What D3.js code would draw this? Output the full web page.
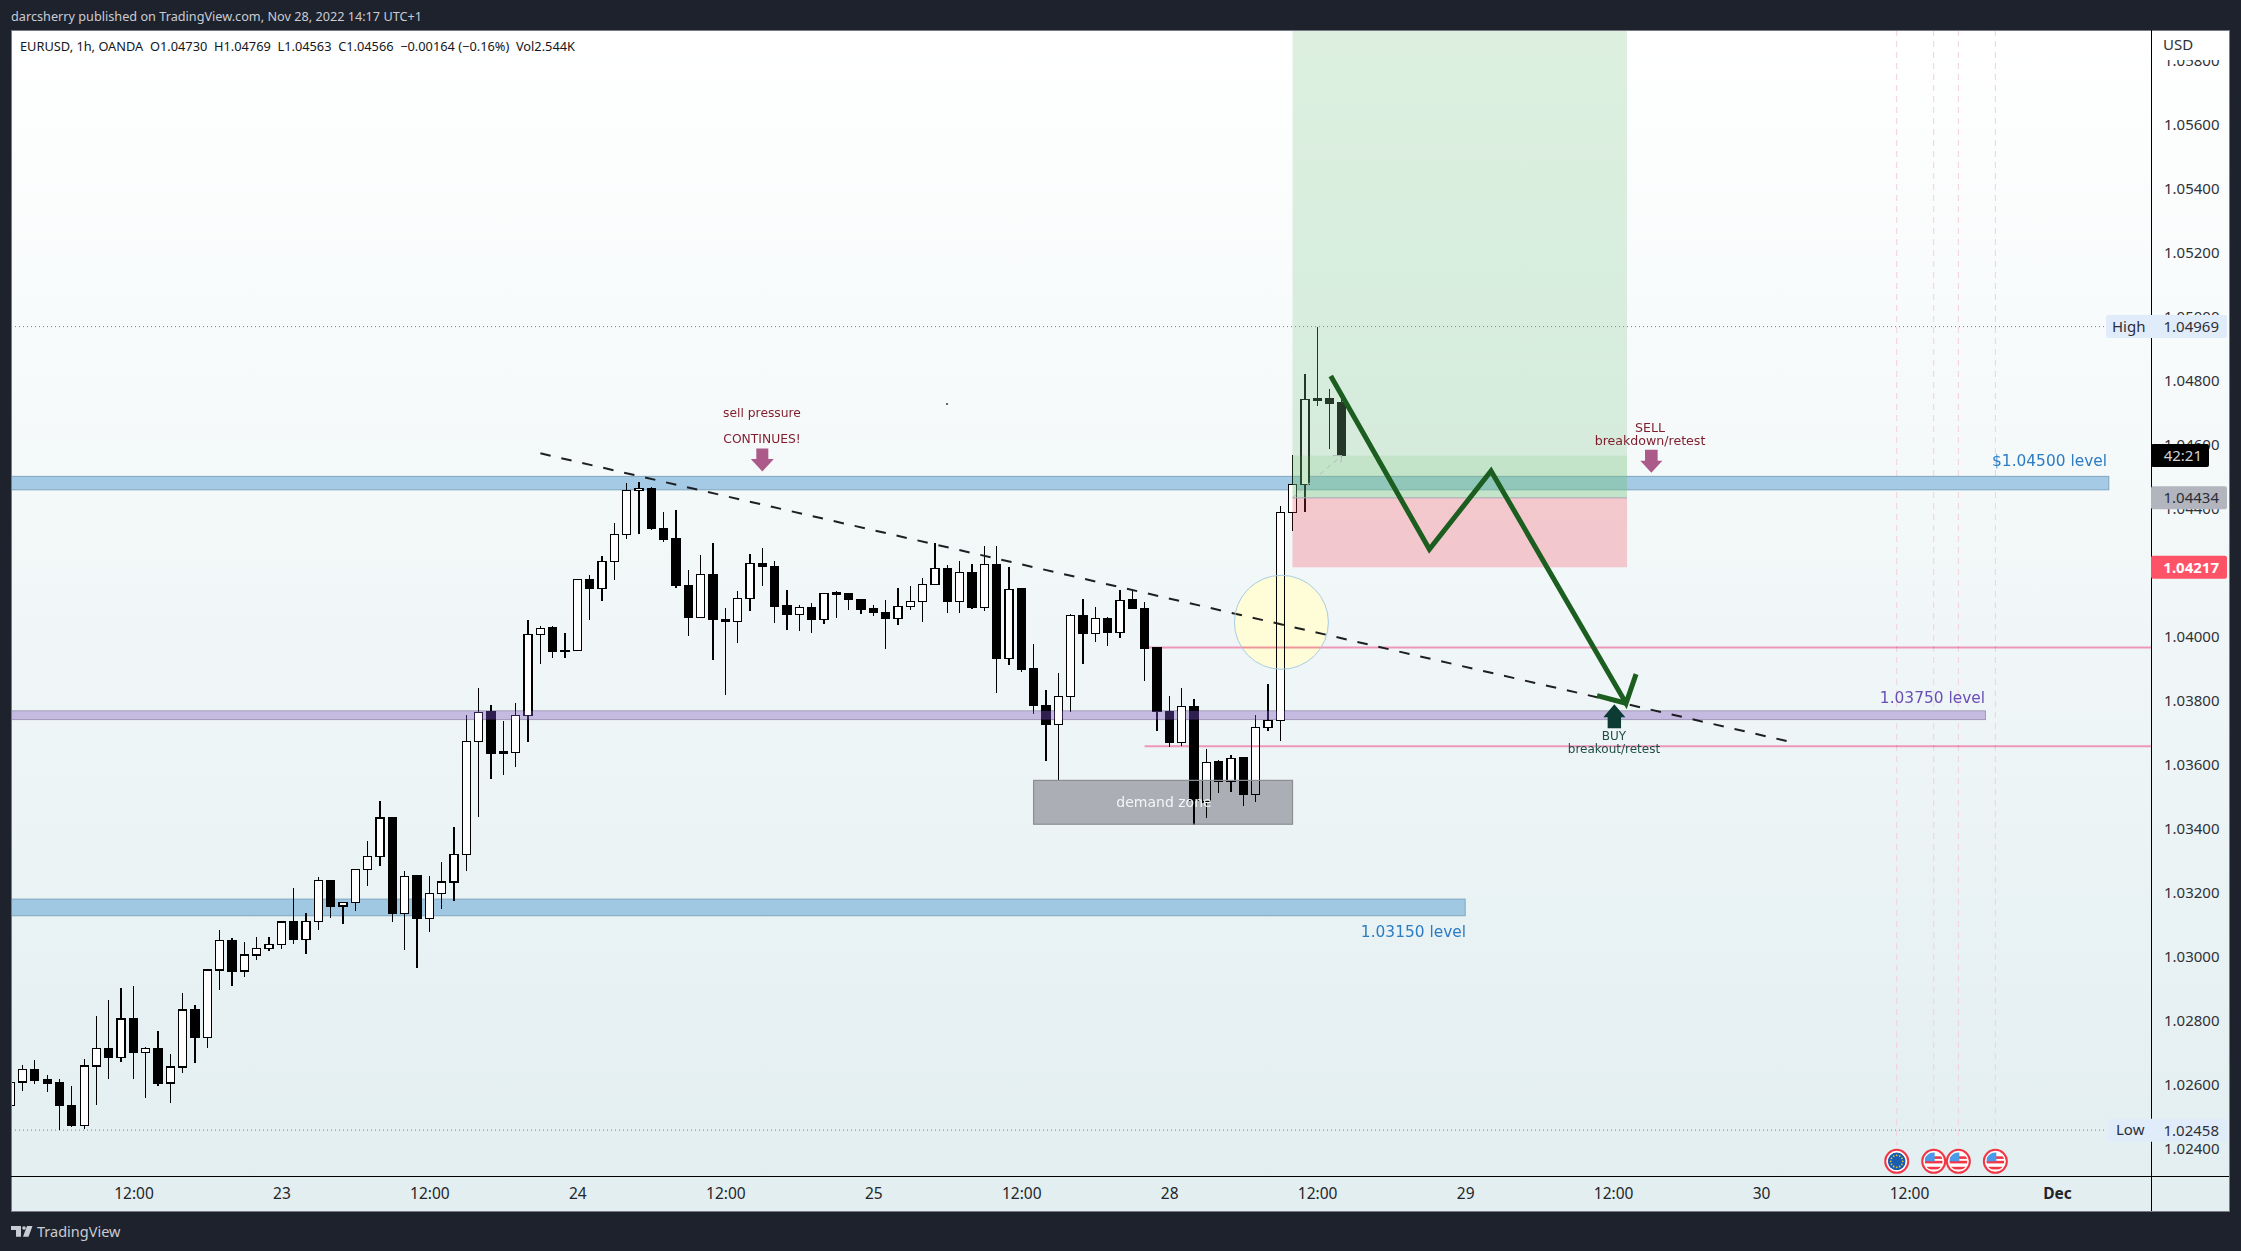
<!DOCTYPE html>
<html><head><meta charset="utf-8">
<style>
html,body{margin:0;padding:0;background:#1e222d;overflow:hidden}
svg{display:block}
</style>
<script src="https://cdn.jsdelivr.net/npm/d3@7/dist/d3.min.js"></script>
</head><body><svg id="c" width="2241" height="1251"></svg>
<script>
// ---------- data: hourly EURUSD candles ----------
const opens=[1.02535,1.02608,1.02648,1.02615,1.02605,1.02536,1.02473,1.02658,1.02714,1.02686,1.02805,1.02701,1.02714,1.02605,1.02655,1.02833,1.02748,1.02958,1.03051,1.02955,1.03005,1.03026,1.03039,1.03108,1.03053,1.03111,1.03239,1.03158,1.03170,1.03273,1.03314,1.03433,1.03136,1.03252,1.03120,1.03198,1.03233,1.03320,1.03673,1.03765,1.03640,1.03638,1.03753,1.04007,1.04027,1.03957,1.03956,1.04179,1.04150,1.04236,1.04320,1.04457,1.04464,1.04339,1.04305,1.04161,1.04059,1.04195,1.04054,1.04047,1.04120,1.04229,1.04220,1.04096,1.04069,1.04092,1.04054,1.04134,1.04136,1.04117,1.04087,1.04076,1.04056,1.04095,1.04110,1.04164,1.04214,1.04111,1.04201,1.04092,1.04226,1.03932,1.04149,1.03899,1.03786,1.03726,1.03814,1.04067,1.04011,1.04057,1.04014,1.04115,1.04089,1.03965,1.03767,1.03670,1.03782,1.03483,1.03608,1.03548,1.03621,1.03506,1.03717,1.03739,1.04389,1.04476,1.04741,1.04743,1.04730];
const highs=[1.02620,1.02661,1.02677,1.02631,1.02617,1.02596,1.02680,1.02815,1.02865,1.02902,1.02909,1.02718,1.02768,1.02696,1.02887,1.02849,1.02958,1.03084,1.03059,1.03046,1.03062,1.03062,1.03108,1.03215,1.03137,1.03249,1.03240,1.03170,1.03273,1.03362,1.03487,1.03434,1.03268,1.03252,1.03252,1.03296,1.03406,1.03754,1.03840,1.03786,1.03737,1.03792,1.04052,1.04032,1.04032,1.04012,1.04179,1.04192,1.04251,1.04355,1.04480,1.04483,1.04467,1.04390,1.04395,1.04207,1.04255,1.04293,1.04089,1.04142,1.04258,1.04277,1.04236,1.04146,1.04099,1.04104,1.04136,1.04143,1.04136,1.04117,1.04099,1.04115,1.04152,1.04158,1.04183,1.04292,1.04224,1.04237,1.04226,1.04283,1.04283,1.04217,1.04149,1.03977,1.03833,1.03887,1.04070,1.04118,1.04093,1.04062,1.04146,1.04143,1.04108,1.03965,1.03815,1.03840,1.03805,1.03649,1.03615,1.03629,1.03623,1.03755,1.03852,1.04408,1.04568,1.04821,1.04969,1.04774,1.04769];
const lows=[1.02500,1.02581,1.02603,1.02578,1.02459,1.02469,1.02463,1.02538,1.02619,1.02672,1.02619,1.02560,1.02597,1.02544,1.02638,1.02669,1.02716,1.02897,1.02907,1.02938,1.02991,1.03019,1.03025,1.03041,1.03007,1.03085,1.03122,1.03103,1.03144,1.03222,1.03282,1.03110,1.03022,1.02966,1.03078,1.03150,1.03175,1.03269,1.03438,1.03556,1.03569,1.03594,1.03672,1.03916,1.03934,1.03934,1.03956,1.04053,1.04112,1.04178,1.04305,1.04322,1.04334,1.04297,1.04153,1.04003,1.04059,1.03928,1.03819,1.03981,1.04081,1.04159,1.04044,1.04022,1.04019,1.04013,1.04041,1.04059,1.04083,1.04072,1.04066,1.03963,1.04038,1.04084,1.04047,1.04163,1.04075,1.04075,1.04088,1.04079,1.03825,1.03913,1.03891,1.03760,1.03613,1.03550,1.03766,1.03916,1.03985,1.03972,1.03997,1.04088,1.03863,1.03706,1.03656,1.03660,1.03413,1.03434,1.03513,1.03515,1.03472,1.03484,1.03706,1.03675,1.04331,1.04391,1.04721,1.04588,1.04563];
const closes=[1.02607,1.02648,1.02613,1.02603,1.02535,1.02472,1.02658,1.02714,1.02685,1.02805,1.02700,1.02714,1.02603,1.02655,1.02833,1.02747,1.02958,1.03051,1.02953,1.03005,1.03026,1.03039,1.03108,1.03053,1.03111,1.03239,1.03157,1.03170,1.03273,1.03314,1.03433,1.03135,1.03251,1.03119,1.03198,1.03233,1.03320,1.03673,1.03764,1.03634,1.03634,1.03754,1.04007,1.04026,1.03953,1.03953,1.04179,1.04150,1.04236,1.04320,1.04457,1.04463,1.04338,1.04303,1.04159,1.04059,1.04195,1.04053,1.04047,1.04120,1.04229,1.04219,1.04094,1.04069,1.04092,1.04053,1.04136,1.04137,1.04116,1.04084,1.04075,1.04056,1.04095,1.04110,1.04164,1.04214,1.04109,1.04201,1.04091,1.04226,1.03931,1.04148,1.03897,1.03785,1.03725,1.03814,1.04067,1.04010,1.04057,1.04013,1.04114,1.04088,1.03963,1.03766,1.03669,1.03782,1.03490,1.03607,1.03547,1.03620,1.03506,1.03717,1.03739,1.04389,1.04476,1.04742,1.04743,1.04728,1.04566];
const barSlots=d3.range(0,closes.length);

const priceTicks=[1.058,1.056,1.054,1.052,1.05,1.048,1.046,1.044,1.042,1.04,1.038,1.036,1.034,1.032,1.03,1.028,1.026,1.024];
const timeSlots=[10,22,34,46,58,70,82,94,106,118,130,142,154,166];
const timeLabels=["12:00","23","12:00","24","12:00","25","12:00","28","12:00","29","12:00","30","12:00","Dec"];
const eventSlots=[153,156,158,161];
const eventKinds=["EU","US","US","US"];

const highPrice=1.04969, lowPrice=1.02458, closePrice=1.04566, entryPrice=1.04434, stopPrice=1.04217, targetPrice=1.05896;
const blueTopBand=[1.04501,1.04459], purpleBand=[1.03768,1.03741], blueLowBand=[1.03180,1.03128], demandBand=[1.03551,1.03414];
const blueTopEnd=170.2, purpleEnd=160.2, blueLowEnd=118, demandStart=83, demandEnd=104;
const posStart=104, posEnd=131.13;
const pinkLevels=[1.03966,1.03658], pinkStart=92;
const trendSlots=[43,144.75], trendPrices=[1.04573,1.03668];
const pathSlots=[107.1,115.1,120.1,131.05,131.86], pathPrices=[1.04815,1.04273,1.04518,1.03792,1.03883];
const headSlots=[128.7,131.05], headPrices=[1.03816,1.03792];
const circleSlot=103.1, circlePrice=1.04045;
const arrowSlots=[61,133.1,130.1], arrowPrices=[1.04516,1.04512,1.03789];

// ---------- geometry ----------
const W=2241,H=1251,L=11,R=2151,RR=2229,T=30,A=1176,B=1211;
const x=d3.scaleLinear().domain([1,166]).range([22.5,2057]);
const y=d3.scaleLinear().domain([1.024,1.058]).range([1148.7,60.7]);
const svg=d3.select("#c");
const defs=svg.append("defs");
const g0=defs.append("linearGradient").attr("id","bg").attr("x1",0).attr("y1",0).attr("x2",0).attr("y2",1);
g0.append("stop").attr("offset",0).attr("stop-color","#ffffff");
g0.append("stop").attr("offset",1).attr("stop-color","#e2eef0");
defs.append("clipPath").attr("id","plot").append("rect").attr("x",L+1).attr("y",T+1).attr("width",R-L-1).attr("height",A-T-1);
defs.append("clipPath").attr("id","ticks").append("rect").attr("x",R).attr("y",60).attr("width",RR-R).attr("height",A-60);

const SANS='"Noto Sans","Open Sans",sans-serif', VER='"DejaVu Sans",sans-serif';
svg.append("rect").attr("width",W).attr("height",H).attr("fill","#1e222d");
svg.append("text").attr("x",11).attr("y",21).attr("font-family",SANS).attr("font-size",13).attr("fill","#c9ccd4")
  .attr("textLength",411).attr("lengthAdjust","spacingAndGlyphs").text("darcsherry published on TradingView.com, Nov 28, 2022 14:17 UTC+1");
svg.append("rect").attr("x",L+.5).attr("y",T+.5).attr("width",RR-L).attr("height",B-T).attr("fill","url(#bg)").attr("stroke","#787b86");

const plot=svg.append("g").attr("clip-path","url(#plot)");
plot.selectAll("line.ev").data(eventSlots).join("line").attr("class","ev").attr("x1",d=>x(d)).attr("x2",d=>x(d)).attr("y1",T).attr("y2",1145)
  .attr("stroke","#f5cfdb").attr("stroke-width",1).attr("stroke-dasharray","6 5");
plot.selectAll("line.hl").data([highPrice,lowPrice]).join("line").attr("class","hl").attr("x1",L).attr("x2",2107).attr("y1",d=>y(d)).attr("y2",d=>y(d))
  .attr("stroke","#787b86").attr("stroke-width",1).attr("stroke-dasharray","1 3");

function band(p,a,b,fill,stroke){
  return plot.append("rect").attr("x",x(a)).attr("width",x(b)-x(a)).attr("y",y(p[0])).attr("height",y(p[1])-y(p[0]))
    .attr("fill",fill).attr("stroke",stroke).attr("stroke-width",1);
}
band(blueTopBand,-5,blueTopEnd,"#a4cae5","#7fa6c0");
band(purpleBand,-5,purpleEnd,"#b8b0d2","#9a96ad");
band(blueLowBand,-5,blueLowEnd,"#a1c8e3","#7fa6c0");

// candles
const bars=plot.append("g").attr("shape-rendering","crispEdges");
bars.selectAll("line").data(barSlots).join("line")
  .attr("x1",i=>x(i)).attr("x2",i=>x(i)).attr("y1",i=>y(highs[i])).attr("y2",i=>y(lows[i])).attr("stroke","#000").attr("stroke-width",1.3);
bars.selectAll("rect").data(barSlots).join("rect")
  .attr("x",i=>x(i)-4).attr("width",8)
  .attr("y",i=>y(Math.max(opens[i],closes[i])))
  .attr("height",i=>Math.max(1,Math.abs(y(opens[i])-y(closes[i]))))
  .attr("fill",i=>closes[i]>=opens[i]?"#fff":"#000").attr("stroke","#000").attr("stroke-width",1.3);

// purple tint over the candles
plot.append("rect").attr("x",x(-5)).attr("width",x(purpleEnd)-x(-5)).attr("y",y(purpleBand[0])).attr("height",y(purpleBand[1])-y(purpleBand[0]))
  .attr("fill","#2f2050").style("mix-blend-mode","screen");

// position tool
const px=x(posStart),pw=x(posEnd)-x(posStart);
plot.append("rect").attr("x",px).attr("width",pw).attr("y",y(targetPrice)).attr("height",y(entryPrice)-y(targetPrice)).attr("fill","rgba(134,200,144,.28)");
plot.append("rect").attr("x",px).attr("width",pw).attr("y",y(closePrice)).attr("height",y(entryPrice)-y(closePrice)).attr("fill","rgba(93,190,84,.15)");
plot.append("rect").attr("x",px).attr("width",pw).attr("y",y(entryPrice)).attr("height",y(stopPrice)-y(entryPrice)).attr("fill","rgba(245,56,74,.25)");
plot.append("line").attr("x1",px).attr("x2",px+pw).attr("y1",y(entryPrice)).attr("y2",y(entryPrice)).attr("stroke","#a9aab4").attr("stroke-width",1);
plot.append("line").attr("x1",px).attr("x2",x(108)).attr("y1",y(entryPrice)).attr("y2",y(closePrice)).attr("stroke","#b4b7be").attr("stroke-width",1).attr("stroke-dasharray","5 4");
plot.append("path").attr("d",d3.line()([[x(108)-9,y(closePrice)],[x(108),y(closePrice)],[x(108)-1,y(closePrice)+7]])).attr("fill","none").attr("stroke","#b4b7be");

// pink levels
plot.selectAll("line.pk").data(pinkLevels).join("line").attr("class","pk").attr("x1",x(pinkStart)).attr("x2",R).attr("y1",d=>y(d)).attr("y2",d=>y(d))
  .attr("stroke","#ee97b8").attr("stroke-width",2).style("mix-blend-mode","multiply");

// dashed trend line
const xy=d3.line().x(d=>x(d[0])).y(d=>y(d[1]));
plot.append("path").attr("d",xy(d3.zip(trendSlots,trendPrices))).attr("fill","none").attr("stroke","#1d1f22").attr("stroke-width",2).attr("stroke-dasharray","10.5 11");

// circle
plot.append("ellipse").attr("cx",x(circleSlot)).attr("cy",y(circlePrice)).attr("rx",47).attr("ry",47)
  .attr("fill","#fffdd7").style("mix-blend-mode","multiply");
plot.append("ellipse").attr("cx",x(circleSlot)).attr("cy",y(circlePrice)).attr("rx",47).attr("ry",47)
  .attr("fill","none").attr("stroke","#a5cbe3").attr("stroke-width",1);

// demand zone
plot.append("rect").attr("x",x(demandStart)).attr("width",x(demandEnd)-x(demandStart)).attr("y",y(demandBand[0])).attr("height",y(demandBand[1])-y(demandBand[0]))
  .attr("fill","#abafb5").style("mix-blend-mode","multiply");
plot.append("rect").attr("x",x(demandStart)).attr("width",x(demandEnd)-x(demandStart)).attr("y",y(demandBand[0])).attr("height",y(demandBand[1])-y(demandBand[0]))
  .attr("fill","none").attr("stroke","#8b8e93").attr("stroke-width",1.2);
plot.append("text").attr("x",1164).attr("y",807).attr("text-anchor","middle").attr("font-family",VER).attr("font-size",14).attr("fill","#f4f5f6").text("demand zone");

// green path
plot.append("path").attr("d",xy(d3.zip(pathSlots,pathPrices))).attr("fill","none").attr("stroke","#1b5e20").attr("stroke-width",5).attr("stroke-linejoin","miter");
plot.append("path").attr("d",xy(d3.zip(headSlots,headPrices))).attr("fill","none").attr("stroke","#1b5e20").attr("stroke-width",5);

// arrows
function arrow(slot,price,dir,col,hw,sw,hl,len){
  const ax=x(slot),ay=y(price);
  const p=[[ax,ay],[ax+hw,ay+dir*hl],[ax+sw,ay+dir*hl],[ax+sw,ay+dir*len],[ax-sw,ay+dir*len],[ax-sw,ay+dir*hl],[ax-hw,ay+dir*hl]];
  plot.append("path").attr("d",d3.line()(p)+"Z").attr("fill",col);
}
arrow(arrowSlots[0],arrowPrices[0],-1,"#ab5a8a",11.5,6,12.5,23);
arrow(arrowSlots[1],arrowPrices[1],-1,"#ab5a8a",11,6.3,12,23);
arrow(arrowSlots[2],arrowPrices[2],1,"#0b3b33",11,6.7,13,24);

// annotation text
function note(tx,ty,txt,col,size,anchor){
  plot.append("text").attr("x",tx).attr("y",ty).attr("text-anchor",anchor||"middle").attr("font-family",VER).attr("font-size",size).attr("fill",col).text(txt);
}
note(762,417,"sell pressure","#7f1d2d",12.3);
note(762,443,"CONTINUES!","#7f1d2d",12.3);
note(1650,431.5,"SELL","#7f1d2d",12.6);
note(1650,444.5,"breakdown/retest","#7f1d2d",12.6);
note(1614,740,"BUY","#1f4d47",12);
note(1614,753,"breakout/retest","#1f4d47",12);
note(2107,466,"$1.04500 level","#2a7cc4",15.4,"end");
note(1985,702.5,"1.03750 level","#6a4fb5",15.4,"end");
note(1466,936.5,"1.03150 level","#2a7cc4",15.4,"end");
plot.append("circle").attr("cx",947).attr("cy",404).attr("r",1).attr("fill","#333");

// event flags
const fl=svg.append("g");
eventSlots.forEach((s,k)=>{
  const cx=x(s),cy=1161.3,id="fc"+k;
  defs.append("clipPath").attr("id",id).append("circle").attr("cx",cx).attr("cy",cy).attr("r",9);
  fl.append("circle").attr("cx",cx).attr("cy",cy).attr("r",11.5).attr("fill","#fff").attr("stroke","#f23645").attr("stroke-width",2);
  const f=fl.append("g").attr("clip-path","url(#"+id+")");
  if(eventKinds[k]==="EU"){
    f.append("circle").attr("cx",cx).attr("cy",cy).attr("r",9).attr("fill","#1a5cb0");
    d3.range(12).forEach(a=>f.append("circle").attr("cx",cx+6*Math.cos(a*Math.PI/6)).attr("cy",cy+6*Math.sin(a*Math.PI/6)).attr("r",.9).attr("fill","#e5c82c"));
  } else {
    f.append("rect").attr("x",cx-9).attr("y",cy-9).attr("width",18).attr("height",18).attr("fill","#fff");
    [-5,-0.5,5.5].forEach(d=>f.append("rect").attr("x",cx-9).attr("y",cy+d).attr("width",18).attr("height",2.6).attr("fill","#f23645"));
    f.append("rect").attr("x",cx-9).attr("y",cy-9).attr("width",10).attr("height",9).attr("fill","#4a9ae8");
  }
});

// axes
svg.append("line").attr("x1",L).attr("x2",RR).attr("y1",A+.5).attr("y2",A+.5).attr("stroke","#000");
svg.append("line").attr("x1",R+.5).attr("x2",R+.5).attr("y1",T).attr("y2",B).attr("stroke","#000");
const ya=svg.append("g").attr("clip-path","url(#ticks)").append("g").attr("transform","translate("+R+",0)")
  .call(d3.axisRight(y).tickValues(priceTicks).tickFormat(d3.format(".5f")).tickSize(0).tickPadding(13));
ya.select(".domain").remove();
ya.selectAll("text").attr("font-family",SANS).attr("font-size",15).attr("fill","#2f3138");
const xa=svg.append("g").attr("transform","translate(0,"+A+")")
  .call(d3.axisBottom(x).tickValues(timeSlots).tickFormat((d,i)=>timeLabels[i]).tickSize(0).tickPadding(12));
xa.select(".domain").remove();
xa.selectAll("text").attr("font-family",SANS).attr("font-size",15.5).attr("fill","#23252b").attr("font-weight",(d,i)=>timeLabels[i]==="Dec"?700:400);

svg.append("text").attr("x",2163).attr("y",50).attr("font-family",SANS).attr("font-size",15).attr("fill","#2f3138").text("USD");
svg.append("text").attr("x",20).attr("y",50.5).attr("font-family",SANS).attr("font-size",12.5).attr("fill","#131722")
  .attr("textLength",555).attr("lengthAdjust","spacingAndGlyphs").attr("xml:space","preserve").style("white-space","pre")
  .text("EURUSD, 1h, OANDA  O1.04730  H1.04769  L1.04563  C1.04566  \u22120.00164 (\u22120.16%)  Vol2.544K");

// price labels
function tag(x0,x1,p,fill,txt,col,weight,name,rightX){
  const cy=y(p);
  svg.append("rect").attr("x",x0).attr("y",cy-11.5).attr("width",x1-x0).attr("height",23).attr("rx",2).attr("fill",fill);
  svg.append("text").attr("x",rightX||2219).attr("y",cy+5.5).attr("text-anchor","end").attr("font-family",SANS).attr("font-size",15).attr("font-weight",weight||400).attr("fill",col).text(txt);
  if(name) svg.append("text").attr("x",x0+(name==="Low"?8:6)).attr("y",cy+5).attr("font-family",SANS).attr("font-size",15).attr("fill","#2a2e39").text(name);
}
tag(2106,2227,highPrice,"#e1ecfb","1.04969","#2f3138",400,"High");
tag(2108,2227,lowPrice,"#e1ecfb","1.02458","#2f3138",400,"Low");
tag(2151,2227,entryPrice,"#b2b5be","1.04434","#2a2e39");
tag(2151,2227,stopPrice,"#fe5367","1.04217","#fff",700);
tag(2151,2209,closePrice,"#000","42:21","#d0d2d8",400,null,2202);

// footer logo
svg.append("path").attr("fill","#c9ccd4").attr("d","M11 1226h10v10.7h-5v-6.7h-5zM27 1226h5.5l-4 10.7h-5.5z");
svg.append("circle").attr("cx",24).attr("cy",1228).attr("r",1.8).attr("fill","#c9ccd4");
svg.append("text").attr("x",37).attr("y",1237).attr("font-family",SANS).attr("font-size",14.5).attr("fill","#c9ccd4").text("TradingView");
</script></body></html>
